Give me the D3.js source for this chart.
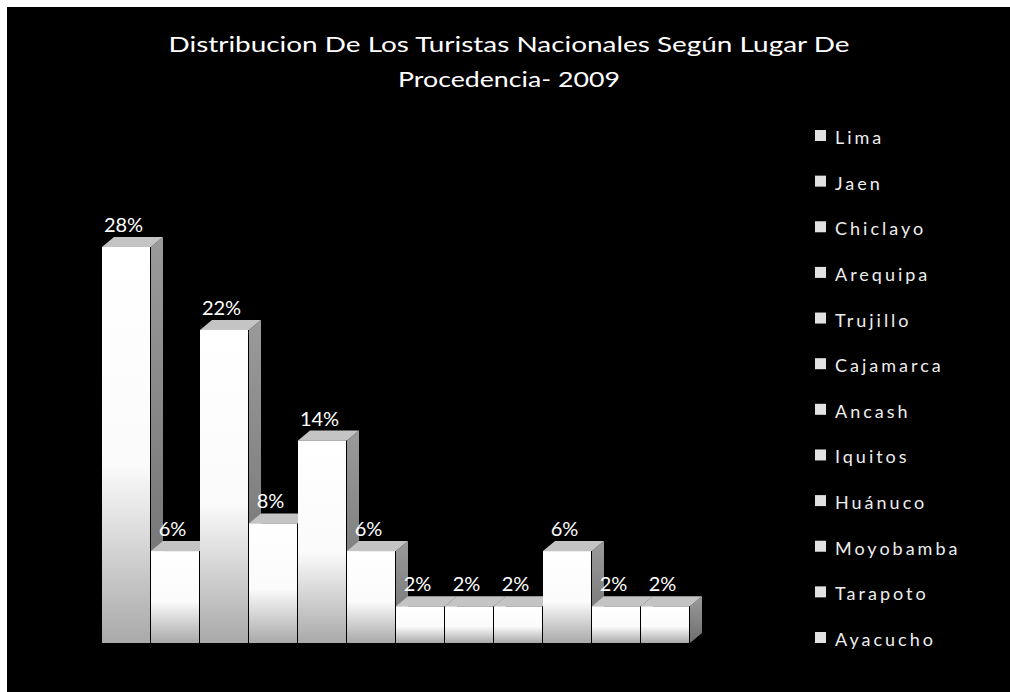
<!DOCTYPE html>
<html>
<head>
<meta charset="utf-8">
<script src="https://cdn.jsdelivr.net/npm/d3@7"></script>
<style>
  body { margin: 0; background: #fff; }
  text { font-family: Lato, "Open Sans", sans-serif; }
</style>
</head>
<body>
<div id="chart"></div>
<script>
const width = 1010,
  height = 692;

/* DATA */
const categories = ["Lima", "Jaen", "Chiclayo", "Arequipa", "Trujillo", "Cajamarca",
  "Ancash", "Iquitos", "Huánuco", "Moyobamba", "Tarapoto", "Ayacucho"];
const values = [28, 6, 22, 8, 14, 6, 2, 2, 2, 6, 2, 2];
const valueLabels = ["28%", "6%", "22%", "8%", "14%", "6%", "2%", "2%", "2%", "6%", "2%", "2%"];
const titleLines = ["Distribucion De Los Turistas Nacionales Según  Lugar De", "Procedencia- 2009"];

const data = categories.map((c, i) => ({ name: c, value: values[i], label: valueLabels[i] }));

// 3d depth of the bars
const dx = 12, dy = 10, floorY = 643;

/* SCALES */
const xScale = d3.scaleBand()
  .domain(categories)
  .range([102, 690])
  .padding(0);

const yScale = d3.scaleLinear()
  .domain([0, 28])
  .range([634, 247]);

const legendScale = d3.scalePoint()
  .domain(categories)
  .range([138, 640]);

/* SVG */
const svg = d3.select("#chart")
  .append("svg")
  .attr("width", width)
  .attr("height", height);

svg.append("rect")
  .attr("width", width).attr("height", height)
  .attr("fill", "#fff");

svg.append("rect")
  .attr("x", 7).attr("y", 7)
  .attr("width", width - 7).attr("height", height - 7)
  .attr("fill", "#000");

const defs = svg.append("defs");
const front = defs.append("linearGradient")
  .attr("id", "front").attr("x1", 0).attr("y1", 0).attr("x2", 0).attr("y2", 1);
front.append("stop").attr("offset", "0%").attr("stop-color", "#ffffff");
front.append("stop").attr("offset", "55%").attr("stop-color", "#fbfbfb");
front.append("stop").attr("offset", "100%").attr("stop-color", "#a9a9a9");

const side = defs.append("linearGradient")
  .attr("id", "side").attr("x1", 0).attr("y1", 0).attr("x2", 0).attr("y2", 1);
side.append("stop").attr("offset", "0%").attr("stop-color", "#9a9a9a");
side.append("stop").attr("offset", "100%").attr("stop-color", "#6e6e6e");

/* TITLE */
svg.selectAll(".title")
  .data(titleLines)
  .join("text")
  .attr("class", "title")
  .attr("x", 509)
  .attr("y", (d, i) => 52 + i * 35)
  .attr("text-anchor", "middle")
  .attr("fill", "#fff")
  .attr("font-size", 22)
  .attr("textLength", (d, i) => i === 0 ? 681 : 222)
  .attr("lengthAdjust", "spacingAndGlyphs")
  .text(d => d);

/* BARS */
const bars = svg.selectAll(".bar")
  .data(data)
  .join("g")
  .attr("class", "bar");

// side face
bars.append("path")
  .attr("fill", "url(#side)")
  .attr("d", d => {
    const x1 = xScale(d.name) + xScale.bandwidth(), y = yScale(d.value);
    return `M${x1},${y} L${x1 + dx},${y - dy} L${x1 + dx},${floorY - dy} L${x1},${floorY} Z`;
  });

// top face
bars.append("path")
  .attr("fill", "#c4c4c4")
  .attr("d", d => {
    const x0 = xScale(d.name), x1 = x0 + xScale.bandwidth(), y = yScale(d.value);
    return `M${x0},${y} L${x0 + dx},${y - dy} L${x1 + dx},${y - dy} L${x1},${y} Z`;
  });

// front face
bars.append("rect")
  .attr("x", d => xScale(d.name))
  .attr("y", d => yScale(d.value))
  .attr("width", xScale.bandwidth() - 1)
  .attr("height", d => floorY - yScale(d.value))
  .attr("fill", "url(#front)");

/* VALUE LABELS */
svg.selectAll(".value")
  .data(data)
  .join("text")
  .attr("class", "value")
  .attr("x", d => xScale(d.name) + xScale.bandwidth() / 2 - 3)
  .attr("y", d => yScale(d.value) - 15)
  .attr("text-anchor", "middle")
  .attr("fill", "#fff")
  .attr("font-size", 20)
  .text(d => d.label);

/* LEGEND */
const legend = svg.selectAll(".legend")
  .data(categories)
  .join("g")
  .attr("class", "legend")
  .attr("transform", d => `translate(815, ${legendScale(d)})`);

legend.append("rect")
  .attr("x", 0).attr("y", -8)
  .attr("width", 11).attr("height", 11)
  .attr("fill", "#e2e2e2");

legend.append("text")
  .attr("x", 20)
  .attr("y", 6)
  .attr("fill", "#eee")
  .attr("font-size", 18)
  .attr("letter-spacing", "3px")
  .text(d => d);
</script>
</body>
</html>
